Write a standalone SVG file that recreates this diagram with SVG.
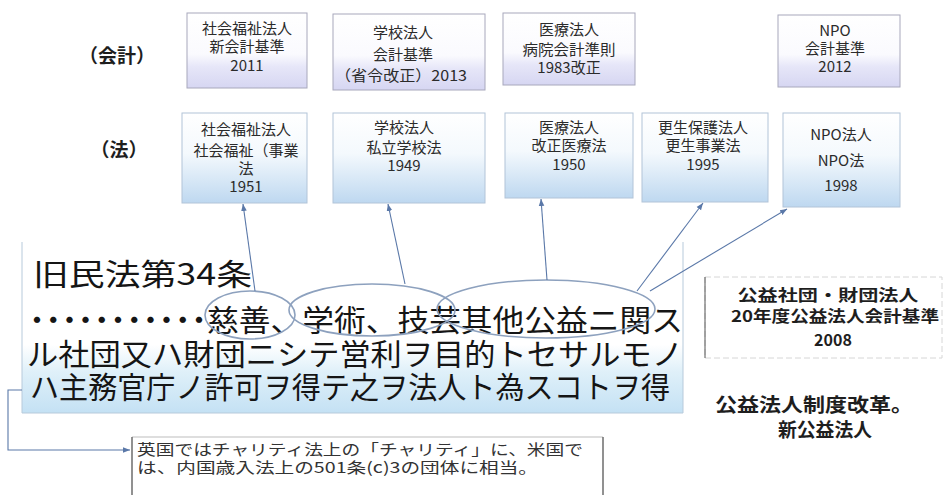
<svg xmlns="http://www.w3.org/2000/svg" width="944" height="495" viewBox="0 0 944 495">
<defs>
<linearGradient id="gAcc" x1="0" y1="0" x2="0" y2="1">
<stop offset="0" stop-color="#ffffff"/><stop offset="0.55" stop-color="#fafafe"/><stop offset="0.72" stop-color="#e6e6f8"/><stop offset="1" stop-color="#d6d6f2"/>
</linearGradient>
<linearGradient id="gLaw" x1="0" y1="0" x2="0" y2="1">
<stop offset="0" stop-color="#ffffff"/><stop offset="0.45" stop-color="#f4f9fd"/><stop offset="1" stop-color="#bed8f0"/>
</linearGradient>
<linearGradient id="gMain" x1="0" y1="0" x2="0" y2="1">
<stop offset="0" stop-color="#ffffff"/><stop offset="0.6" stop-color="#ffffff"/><stop offset="0.76" stop-color="#dff0f9"/><stop offset="1" stop-color="#c4e1f4"/>
</linearGradient>
<marker id="arr" viewBox="0 0 10 10" refX="10" refY="5" markerWidth="7" markerHeight="7" orient="auto" markerUnits="userSpaceOnUse">
<path d="M0,1 L10,5 L0,9 z" fill="#5a78a8"/>
</marker>
</defs>
<style>
.acc{fill:url(#gAcc);stroke:#a8a8bc;stroke-width:1}
.law{fill:url(#gLaw);stroke:#b2c4d8;stroke-width:1}
.t{font-family:"Noto Sans CJK JP","Noto Sans CJK SC",sans-serif;fill:#2b2b2b;text-anchor:middle;font-size:15px}
.big{font-family:"Noto Sans CJK JP","Noto Sans CJK SC",sans-serif;fill:#151515;font-size:30px}
.lbl{font-family:"Noto Sans CJK JP","Noto Sans CJK SC",sans-serif;fill:#1e1e1e;font-weight:bold;text-anchor:middle}
.conn{stroke:#5a78a8;stroke-width:1.1;fill:none}
.ell{fill:none;stroke:#8da1be;stroke-width:1.6}
</style>

<g id="row-labels">
<text class="lbl" x="117" y="63" font-size="19">（会計）</text>
<text class="lbl" x="119" y="157" font-size="19">（法）</text>
</g>

<g id="acc-social">
<rect class="acc" x="187" y="13" width="120" height="75"/>
<text class="t" x="247" y="34" font-size="14">社会福祉法人</text>
<text class="t" x="247" y="52" font-size="14">新会計基準</text>
<text class="t" x="247" y="71" font-size="14">2011</text>
</g>
<g id="acc-school">
<rect class="acc" x="333" y="14" width="152" height="76"/>
<text class="t" x="403" y="38">学校法人</text>
<text class="t" x="403" y="60">会計基準</text>
<text class="t" x="401" y="81" textLength="132" lengthAdjust="spacingAndGlyphs">（省令改正）2013</text>
</g>
<g id="acc-medical">
<rect class="acc" x="503" y="13" width="132" height="72"/>
<text class="t" x="569" y="35">医療法人</text>
<text class="t" x="569" y="55" textLength="93" lengthAdjust="spacingAndGlyphs">病院会計準則</text>
<text class="t" x="569" y="73" font-size="14">1983改正</text>
</g>
<g id="acc-npo">
<rect class="acc" x="778" y="15" width="122" height="72"/>
<text class="t" x="835" y="36" font-size="11">NPO</text>
<text class="t" x="835" y="54" font-size="13">会計基準</text>
<text class="t" x="835" y="72" font-size="12">2012</text>
</g>

<g id="law-social">
<rect class="law" x="182" y="113" width="125" height="90"/>
<text class="t" x="246" y="135">社会福祉法人</text>
<text class="t" x="246" y="156">社会福祉（事業</text>
<text class="t" x="246" y="174">法</text>
<text class="t" x="246" y="192" font-size="13">1951</text>
</g>
<g id="law-school">
<rect class="law" x="333" y="113" width="152" height="90"/>
<text class="t" x="404" y="133">学校法人</text>
<text class="t" x="404" y="153">私立学校法</text>
<text class="t" x="404" y="171" font-size="13">1949</text>
</g>
<g id="law-medical">
<rect class="law" x="505" y="113" width="128" height="85"/>
<text class="t" x="569" y="133">医療法人</text>
<text class="t" x="569" y="151">改正医療法</text>
<text class="t" x="569" y="170" font-size="13">1950</text>
</g>
<g id="law-rehab">
<rect class="law" x="642" y="113" width="126" height="89"/>
<text class="t" x="703" y="133">更生保護法人</text>
<text class="t" x="703" y="151">更生事業法</text>
<text class="t" x="703" y="170" font-size="13">1995</text>
</g>
<g id="law-npo">
<rect class="law" x="783" y="113" width="117" height="94"/>
<text class="t" x="841" y="140" font-size="17">NPO法人</text>
<text class="t" x="841" y="166" font-size="17">NPO法</text>
<text class="t" x="841" y="191" font-size="17">1998</text>
</g>

<g id="civil-code">
<rect x="22" y="242" width="661" height="171" fill="url(#gMain)"/>
<path d="M22,242 V413 H683 V242" fill="none" stroke="#b7cadb" stroke-width="1"/>
<text class="big" x="33" y="285" font-size="32" textLength="219" lengthAdjust="spacingAndGlyphs">旧民法第34条</text>
<text class="big" x="22" y="331" textLength="192" lengthAdjust="spacing">・・・・・・・・・・・</text>
<text class="big" x="207" y="331" textLength="476" lengthAdjust="spacingAndGlyphs">慈善、学術、技芸其他公益ニ関ス</text>
<text class="big" x="27" y="365" textLength="656" lengthAdjust="spacingAndGlyphs">ル社団又ハ財団ニシテ営利ヲ目的トセサルモノ</text>
<text class="big" x="30" y="398" textLength="640" lengthAdjust="spacingAndGlyphs">ハ主務官庁ノ許可ヲ得テ之ヲ法人ト為スコトヲ得</text>
<ellipse class="ell" cx="250" cy="315" rx="45" ry="24"/>
<ellipse class="ell" cx="372" cy="310" rx="83" ry="26"/>
<ellipse class="ell" cx="546" cy="309" rx="109" ry="29"/>
</g>

<g id="koeki-accounting">
<rect x="705" y="277" width="237" height="81" fill="#ffffff" stroke="#d6d6d6" stroke-width="1" stroke-dasharray="6 3"/>
<line x1="705" y1="277" x2="705" y2="358" stroke="#555555" stroke-width="1"/>
<text class="lbl" x="828" y="301" font-size="16" textLength="181" lengthAdjust="spacingAndGlyphs">公益社団・財団法人</text>
<text class="lbl" x="835" y="322" font-size="16" textLength="208" lengthAdjust="spacingAndGlyphs">20年度公益法人会計基準</text>
<text class="lbl" x="833" y="346" font-size="16">2008</text>
</g>

<g id="koeki-reform">
<text class="lbl" x="814" y="412" font-size="19" textLength="198" lengthAdjust="spacingAndGlyphs">公益法人制度改革。</text>
<text class="lbl" x="825" y="437" font-size="19" textLength="94" lengthAdjust="spacingAndGlyphs">新公益法人</text>
</g>

<g id="note">
<path d="M132,495 V437 H603 V495" fill="#ffffff" stroke="#bdbdbd" stroke-width="1"/>
<line x1="132" y1="437" x2="132" y2="495" stroke="#444444" stroke-width="1"/>
<line x1="603" y1="437" x2="603" y2="495" stroke="#444444" stroke-width="1"/>
<text class="t" x="137" y="455" font-size="14" style="text-anchor:start;fill:#333" textLength="446" lengthAdjust="spacingAndGlyphs">英国ではチャリティ法上の「チャリティ」に、米国で</text>
<text class="t" x="137" y="473" font-size="14" style="text-anchor:start;fill:#333" textLength="401" lengthAdjust="spacingAndGlyphs">は、内国歳入法上の501条(c)3の団体に相当。</text>
</g>

<g id="connectors">
<line class="conn" x1="255" y1="291" x2="243" y2="204" marker-end="url(#arr)"/>
<line class="conn" x1="405" y1="284" x2="388" y2="204" marker-end="url(#arr)"/>
<line class="conn" x1="547" y1="280" x2="541" y2="199" marker-end="url(#arr)"/>
<line class="conn" x1="637" y1="291" x2="703" y2="203" marker-end="url(#arr)"/>
<line class="conn" x1="650" y1="291" x2="787" y2="209" marker-end="url(#arr)"/>
<path class="conn" d="M22,390 H8 V450 H130" marker-end="url(#arr)"/>
</g>
</svg>
